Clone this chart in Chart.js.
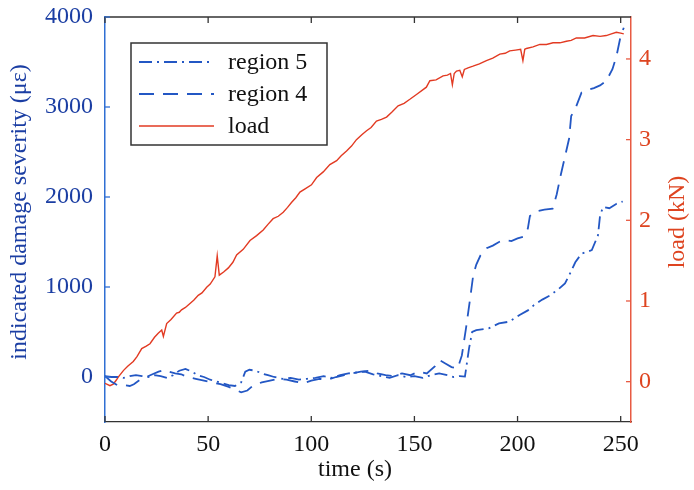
<!DOCTYPE html>
<html>
<head>
<meta charset="utf-8">
<script src="https://cdn.jsdelivr.net/npm/chart.js@4/dist/chart.umd.min.js"></script>
<style>
  html, body { margin: 0; padding: 0; background: #fff; }
  #wrap { width: 694px; height: 490px; }
</style>
</head>
<body>
<div id="wrap"><canvas id="chart" width="694" height="490"></canvas></div>
<script>
// load (kN) vs time (s)
var timeLoad = [
  0,2.4,4,5.5,6.5,9,11,13.7,15.5,17.8,
  20,21.8,24,25.8,27.5,28.3,29.9,32,34.7,36,
  37.1,39,41.2,43,45.2,47,49.3,51,53.3,54.4,
  55.4,57.5,59.8,62,63.8,67,70.3,73.5,76.7,79,
  81.5,84,86.4,88.5,90.4,92.5,94.5,97,100.1,102.6,
  105.8,109,112.3,114.5,117.1,119.5,121.9,124.5,126.8,129,
  131.6,134,136.5,139,142.1,145,147.8,151,155.8,157.5,
  160.5,163.9,166,167.5,168.4,169.3,170.4,172,173.2,174.2,
  176,178.4,181.5,184.9,188,191.4,194,196.2,199,201.5,
  202.6,203.5,204.3,207.5,210.8,214,217.2,220.5,223.7,226,
  228.5,232.5,236.6,240,243,245.5,247.9,250,251.5
];
var load = [
  -0.02,-0.05,-0.03,0.02,0.06,0.14,0.19,0.25,0.31,0.41,
  0.44,0.47,0.55,0.60,0.64,0.56,0.72,0.77,0.85,0.86,
  0.89,0.92,0.97,1.01,1.07,1.10,1.17,1.21,1.30,1.56,
  1.32,1.36,1.41,1.48,1.57,1.64,1.75,1.81,1.88,1.95,
  2.02,2.05,2.10,2.16,2.22,2.28,2.35,2.39,2.44,2.53,
  2.60,2.69,2.74,2.80,2.86,2.92,3.00,3.06,3.11,3.15,
  3.23,3.25,3.28,3.34,3.42,3.45,3.50,3.56,3.65,3.73,
  3.74,3.79,3.80,3.82,3.68,3.82,3.85,3.86,3.78,3.87,
  3.89,3.91,3.94,3.98,4.01,4.06,4.07,4.10,4.11,4.12,
  3.98,4.12,4.13,4.15,4.18,4.18,4.20,4.20,4.22,4.23,
  4.26,4.26,4.29,4.28,4.29,4.31,4.33,4.32,4.31
];

// region 4 (dashed), indicated damage severity
var time4 = [
  0,3,6,9,12,14,17,20,23,26,
  29,31,34,37,40,44,48,52,56,60,
  63,66,69,72,76,80,84,88,92,96,
  100,104,108,112,116,120,124,128,132,136,
  140,144,148,152,156,160,162,165,168,171,
  173,175,177,178.5,180,182,185,188,191,194,
  197,200,203,205,206,209,213,217,219,221,
  223,225,226,228,231,234,237,240,243,246,
  248,250,251.5
];
var region4 = [
  10,-50,-90,-90,-100,-80,-30,0,30,60,
  80,60,40,30,0,-20,-40,-60,-80,-110,
  -140,-170,-150,-90,-60,-40,-20,-30,-50,-70,
  -40,-20,-30,0,20,40,60,70,40,20,
  10,40,20,60,40,120,190,150,110,95,
  240,540,870,1130,1250,1350,1430,1460,1500,1520,
  1510,1540,1560,1650,1790,1840,1860,1870,2030,2250,
  2450,2650,2900,2980,3160,3190,3210,3240,3290,3420,
  3570,3790,3880
];

// region 5 (dash-dot)
var time5 = [
  0,3,6,9,12,15,18,21,24,27,
  30,33,36,39,42,45,48,51,54,57,
  60,63,66,68,70,73,76,79,82,86,
  90,94,98,102,106,110,114,118,122,126,
  130,134,138,142,146,150,154,158,162,166,
  169,172,174.5,176.5,178,180,186,191,196,201,
  205,208,212,216,220,223,225,228,231,236,
  239,240,241.5,244.5,248,251
];
var region5 = [
  10,0,0,-10,10,20,10,0,20,10,
  -10,20,70,90,60,20,0,-30,-50,-70,
  -90,-100,-60,60,80,70,40,20,0,-20,
  -10,-30,-20,-10,10,-10,20,40,50,60,
  30,10,-10,20,0,10,-10,20,40,20,
  0,10,5,320,500,520,540,595,615,690,
  740,800,860,910,980,1040,1130,1275,1370,1410,
  1575,1795,1890,1875,1925,1950
];

var xTicks = [0,50,100,150,200,250];
var leftTicks = [0,1000,2000,3000,4000];
var rightTicks = [0,1,2,3,4];

var SERIF = '"Liberation Serif", "DejaVu Serif", serif';
var BLUE = '#2357c4', BLUE_TXT = '#1b3ea3', BLUE_AX = '#2f6fd3';
var RED = '#e23a22', RED_TXT = '#de4420', RED_AX = '#e85a42';

function pts(xs, ys){
  return xs.map(function(x,i){ return {x:x, y:ys[i]}; });
}
function useTicks(list){
  return function(scale){
    scale.ticks = list.map(function(v){ return {value: v}; });
  };
}
function plain(v){ return String(v); }

// inward ticks, top frame, titles and the boxed legend
var decor = {
  id: 'decor',
  afterDraw: function(chart){
    var ctx = chart.ctx, a = chart.chartArea;
    var sx = chart.scales.x, sl = chart.scales.y, sr = chart.scales.y1;
    ctx.save();
    ctx.lineWidth = 1.3;
    ctx.strokeStyle = '#333';
    ctx.beginPath(); ctx.moveTo(a.left, a.top); ctx.lineTo(a.right, a.top); ctx.stroke();
    xTicks.forEach(function(v){
      var p = sx.getPixelForValue(v);
      ctx.beginPath();
      ctx.moveTo(p, a.bottom); ctx.lineTo(p, a.bottom - 6);
      ctx.moveTo(p, a.top); ctx.lineTo(p, a.top + 6);
      ctx.stroke();
    });
    ctx.strokeStyle = BLUE_AX;
    leftTicks.forEach(function(v){
      var p = sl.getPixelForValue(v);
      ctx.beginPath(); ctx.moveTo(a.left, p); ctx.lineTo(a.left + 5, p); ctx.stroke();
    });
    ctx.strokeStyle = RED_AX;
    rightTicks.forEach(function(v){
      var p = sr.getPixelForValue(v);
      ctx.beginPath(); ctx.moveTo(a.right, p); ctx.lineTo(a.right - 5, p); ctx.stroke();
    });

    // axis titles
    ctx.font = '24px ' + SERIF;
    ctx.textAlign = 'center';
    ctx.textBaseline = 'middle';
    ctx.fillStyle = '#111';
    ctx.fillText('time (s)', 355, 470);
    ctx.save();
    ctx.translate(20, 212); ctx.rotate(-Math.PI/2);
    ctx.fillStyle = BLUE_TXT;
    ctx.fillText('indicated damage severity (με)', 0, 0);
    ctx.restore();
    ctx.save();
    ctx.translate(678, 222); ctx.rotate(-Math.PI/2);
    ctx.fillStyle = RED_TXT;
    ctx.fillText('load (kN)', 0, 0);
    ctx.restore();

    // legend
    ctx.fillStyle = '#fff';
    ctx.fillRect(131, 43, 196, 102);
    ctx.strokeStyle = '#333';
    ctx.lineWidth = 1.5;
    ctx.strokeRect(131, 43, 196, 102);
    var rows = [62, 94, 126];
    chart.data.datasets.forEach(function(ds, i){
      ctx.save();
      ctx.strokeStyle = ds.borderColor;
      ctx.lineWidth = ds.borderWidth;
      ctx.setLineDash(ds.borderDash || []);
      ctx.beginPath(); ctx.moveTo(139, rows[i]); ctx.lineTo(214, rows[i]); ctx.stroke();
      ctx.restore();
      ctx.fillStyle = '#111';
      ctx.textAlign = 'left';
      ctx.font = '24px ' + SERIF;
      ctx.fillText(ds.label, 228, rows[i] + 1);
    });
    ctx.restore();
  }
};

var chart = new Chart(document.getElementById('chart'), {
  type: 'line',
  data: {
    datasets: [{
      label: 'region 5',
      data: pts(time5, region5),
      yAxisID: 'y',
      borderColor: BLUE,
      borderWidth: 1.8,
      borderDash: [13, 5, 2, 5]
    }, {
      label: 'region 4',
      data: pts(time4, region4),
      yAxisID: 'y',
      borderColor: BLUE,
      borderWidth: 1.8,
      borderDash: [15, 9]
    }, {
      label: 'load',
      data: pts(timeLoad, load),
      yAxisID: 'y1',
      borderColor: RED,
      borderWidth: 1.4
    }]
  },
  options: {
    responsive: false,
    animation: false,
    layout: { padding: { top: 17, left: 0, right: 0, bottom: 0 } },
    elements: { point: { radius: 0 }, line: { tension: 0 } },
    plugins: { legend: { display: false }, tooltip: { enabled: false } },
    scales: {
      x: {
        type: 'linear', min: 0, max: 255,
        afterBuildTicks: useTicks(xTicks),
        afterFit: function(s){ s.height = 68; s.paddingLeft = 0; s.paddingRight = 0; },
        grid: { display: false, drawTicks: false },
        border: { display: true, color: '#333', width: 1.3 },
        ticks: { padding: 8, color: '#111', callback: plain, font: { family: SERIF, size: 24 } }
      },
      y: {
        position: 'left', min: -500, max: 4000,
        afterBuildTicks: useTicks(leftTicks),
        afterFit: function(s){ s.width = 105; s.paddingTop = 0; s.paddingBottom = 0; },
        grid: { display: false, drawTicks: false },
        border: { display: true, color: BLUE_AX, width: 1.5 },
        ticks: { padding: 12, color: BLUE_TXT, callback: plain, font: { family: SERIF, size: 24 } }
      },
      y1: {
        position: 'right', min: -0.5, max: 4.52,
        afterBuildTicks: useTicks(rightTicks),
        afterFit: function(s){ s.width = 63; s.paddingTop = 0; s.paddingBottom = 0; },
        grid: { display: false, drawTicks: false },
        border: { display: true, color: RED_AX, width: 1.5 },
        ticks: { padding: 8, color: RED_TXT, callback: plain, font: { family: SERIF, size: 24 } }
      }
    }
  },
  plugins: [decor]
});
</script>
</body>
</html>
